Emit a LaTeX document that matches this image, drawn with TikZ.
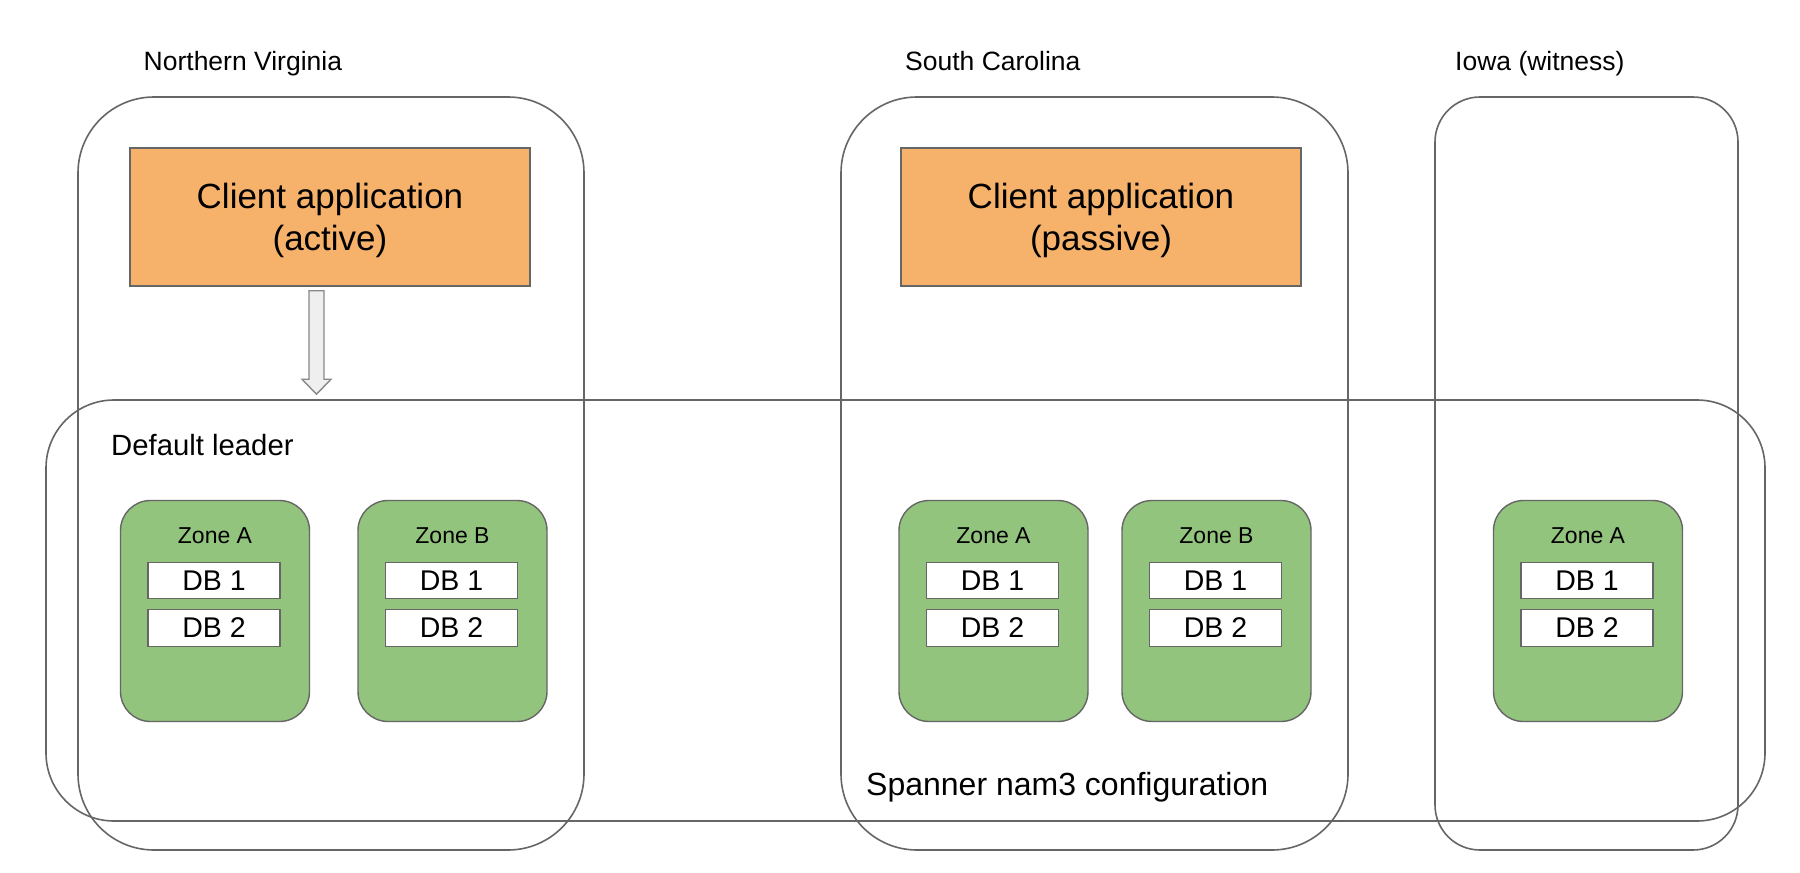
\documentclass[tikz,border=0pt]{standalone}
\usepackage{fontspec}
\setmainfont{Liberation Sans}
\usetikzlibrary{calc}
\definecolor{lgray}{HTML}{666666}
\definecolor{appor}{HTML}{F6B26B}
\definecolor{zgreen}{HTML}{93C47D}
\definecolor{arrfill}{HTML}{EFEFEF}
\definecolor{arrline}{HTML}{888888}
\newcommand{\myzone}[3]{%
  \node[zonebox] (#1) at (#2,611) {};
  \node[zonelabel, anchor=base] (#1-t) at (#2,543.3) {#3};
  \node[dbbox] (#1-1) at (#2-1,580.5) {DB 1};
  \node[dbbox] (#1-2) at (#2-1,628) {DB 2};
}
\tikzset{
  region/.style={draw=lgray, line width=1.6pt, inner sep=0pt, minimum height=753pt},
  appbox/.style={draw=lgray, line width=1.4pt, fill=appor, minimum width=400pt, minimum height=138pt,
    inner sep=0pt},
  apptext/.style={align=center, font=\fontsize{35}{42}\selectfont, inner sep=0pt},
  zonebox/.style={draw=lgray, line width=1.4pt, fill=zgreen, rounded corners=30pt,
    minimum width=189pt, minimum height=221pt, inner sep=0pt},
  zonelabel/.style={font=\fontsize{23}{26}\selectfont, inner sep=0pt},
  dbbox/.style={draw=lgray, line width=1.4pt, fill=white, minimum width=132pt, minimum height=36.5pt,
    inner sep=0pt, font=\fontsize{28.5}{30}\selectfont},
  title/.style={font=\fontsize{26.5}{28}\selectfont, inner sep=0pt, anchor=base west},
  blockarrow/.style={draw=arrline, line width=1.4pt, fill=arrfill, line join=miter},
}
\begin{document}
\begin{tikzpicture}[x=1pt, y=-1pt]
\useasboundingbox (0,0) rectangle (1800,873);
\fill[white] (0,0) rectangle (1800,873);
% region boxes
\node[region, rounded corners=76pt, minimum width=506pt] (nv) at (331,473.5) {};
\node[region, rounded corners=76pt, minimum width=507pt] (sc) at (1094.5,473.5) {};
\node[region, rounded corners=45pt, minimum width=303pt] (ia) at (1586.5,473.5) {};
\node[region, rounded corners=68pt, minimum width=1719pt, minimum height=421pt] (span) at (905.5,610.5) {};
% titles
\node[title] (nvt) at (143.5,70.7) {Northern Virginia};
\node[title] (sct) at (905,70.7) {South Carolina};
\node[title] (iat) at (1455,70.7) {Iowa (witness)};
\node[title, font=\fontsize{29.3}{31}\selectfont] (dl) at (111,455) {Default leader};
\node[title, font=\fontsize{32}{34}\selectfont] (spt) at (866,795) {Spanner nam3 configuration};
% client applications
\node[appbox] (ca) at (330,217) {};
\node[apptext] (ca-t) at ($(ca.center)+(0,3)$) {Client application\\(active)};
\node[appbox] (cp) at (1101,217) {};
\node[apptext] (cp-t) at ($(cp.center)+(0,3)$) {Client application\\(passive)};
% block arrow from active client to the spanner configuration
\coordinate (atop) at ($(ca.south)+(-13.5,4)$);
\coordinate (atip) at ($(span.north)!(atop)!(span.north east)+(0,-5)$);
\draw[blockarrow] ($(atop)+(-7.5,0)$) -- ($(atop)+(7.5,0)$) -- ($(atip)+(7.5,-15)$)
  -- ($(atip)+(14.5,-15)$) -- (atip) -- ($(atip)+(-14.5,-15)$) -- ($(atip)+(-7.5,-15)$) -- cycle;
% zones
\myzone{nvA}{215}{Zone A}
\myzone{nvB}{452.5}{Zone B}
\myzone{scA}{993.5}{Zone A}
\myzone{scB}{1216.5}{Zone B}
\myzone{iaA}{1588}{Zone A}
\end{tikzpicture}
\end{document}
